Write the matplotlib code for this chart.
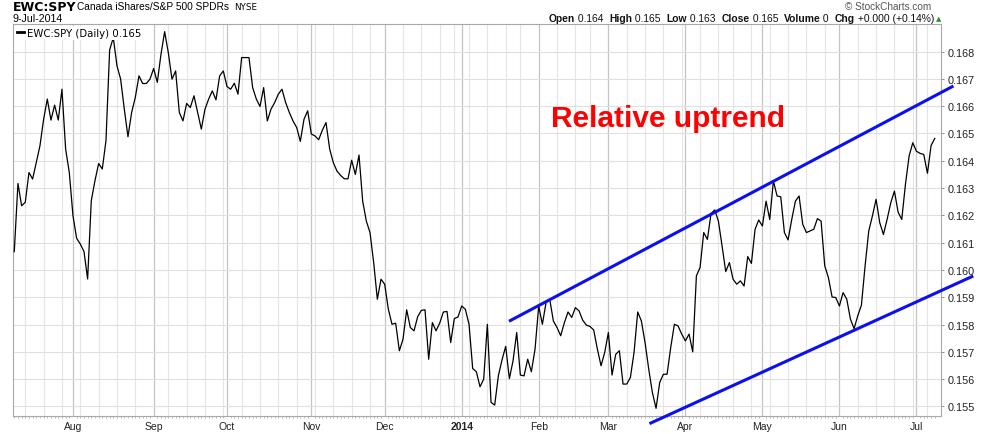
import matplotlib
matplotlib.use("Agg")
import matplotlib.pyplot as plt
import numpy as np
import pandas as pd
from matplotlib.lines import Line2D
from matplotlib.ticker import FixedLocator, FormatStrFormatter

plt.rcParams["font.family"] = ["Liberation Sans", "DejaVu Sans"]

# trading calendar, 10-Jul-2013 .. 9-Jul-2014
start_date = "2013-07-10"
end_date = "2014-07-09"
holidays = ["2013-09-02", "2013-11-28", "2013-12-25", "2014-01-01", "2014-01-20",
            "2014-02-17", "2014-04-18", "2014-05-26", "2014-07-04"]

# EWC:SPY daily close
ratio = [
    0.16067, 0.16317, 0.16235, 0.16248, 0.16357, 0.16333, 0.16394, 0.16455, 0.16552, 0.16626,
    0.16549, 0.16604, 0.16549, 0.16662, 0.16443, 0.16357, 0.16199, 0.16116, 0.16095, 0.16068,
    0.15967, 0.16254, 0.16327, 0.16390, 0.16370, 0.16473, 0.16806, 0.16851, 0.16748, 0.16699,
    0.16589, 0.16488, 0.16577, 0.16632, 0.16711, 0.16683, 0.16683, 0.16699, 0.16738, 0.16687,
    0.16790, 0.16873, 0.16796, 0.16699, 0.16729, 0.16577, 0.16546, 0.16610, 0.16595, 0.16638,
    0.16577, 0.16516, 0.16589, 0.16626, 0.16656, 0.16623, 0.16711, 0.16729, 0.16672, 0.16662,
    0.16684, 0.16644, 0.16778, 0.16778, 0.16778, 0.16668, 0.16626, 0.16599, 0.16668, 0.16546,
    0.16589, 0.16613, 0.16644, 0.16662, 0.16613, 0.16577, 0.16546, 0.16522, 0.16471, 0.16552,
    0.16583, 0.16498, 0.16491, 0.16477, 0.16512, 0.16540, 0.16443, 0.16393, 0.16362, 0.16346,
    0.16334, 0.16334, 0.16402, 0.16350, 0.16421, 0.16252, 0.16179, 0.16137, 0.16027, 0.15893,
    0.15966, 0.15948, 0.15856, 0.15801, 0.15805, 0.15704, 0.15746, 0.15854, 0.15789, 0.15777,
    0.15829, 0.15852, 0.15854, 0.15673, 0.15807, 0.15777, 0.15805, 0.15846, 0.15848, 0.15734,
    0.15822, 0.15828, 0.15868, 0.15856, 0.15801, 0.15639, 0.15627, 0.15572, 0.15600, 0.15801,
    0.15515, 0.15505, 0.15612, 0.15671, 0.15720, 0.15602, 0.15667, 0.15771, 0.15615, 0.15612,
    0.15673, 0.15627, 0.15710, 0.15868, 0.15801, 0.15880, 0.15893, 0.15813, 0.15789, 0.15759,
    0.15807, 0.15846, 0.15826, 0.15862, 0.15850, 0.15816, 0.15798, 0.15793, 0.15780, 0.15710,
    0.15649, 0.15698, 0.15771, 0.15615, 0.15691, 0.15704, 0.15582, 0.15582, 0.15606, 0.15698,
    0.15846, 0.15813, 0.15734, 0.15637, 0.15551, 0.15493, 0.15588, 0.15618, 0.15618, 0.15716,
    0.15801, 0.15795, 0.15765, 0.15740, 0.15765, 0.15700, 0.15978, 0.16009, 0.16137, 0.16112,
    0.16207, 0.16220, 0.16179, 0.16088, 0.15994, 0.16027, 0.15966, 0.15948, 0.15960, 0.15941,
    0.16049, 0.16024, 0.16149, 0.16183, 0.16161, 0.16252, 0.16185, 0.16326, 0.16271, 0.16268,
    0.16137, 0.16110, 0.16185, 0.16252, 0.16271, 0.16167, 0.16137, 0.16143, 0.16149, 0.16188,
    0.16179, 0.16015, 0.15972, 0.15901, 0.15899, 0.15868, 0.15917, 0.15893, 0.15820, 0.15785,
    0.15832, 0.15871, 0.16015, 0.16143, 0.16198, 0.16259, 0.16173, 0.16130, 0.16185, 0.16246,
    0.16289, 0.16212, 0.16185, 0.16313, 0.16417, 0.16466, 0.16435, 0.16427, 0.16423, 0.16354,
    0.16456, 0.16482,
]

# price axis labels
y_ticks = [0.155, 0.156, 0.157, 0.158, 0.159, 0.160, 0.161,
           0.162, 0.163, 0.164, 0.165, 0.166, 0.167, 0.168]

# hand-drawn channel lines (trading-day index, value)
upper_days = [134.9, 256.1]
upper_vals = [0.15812, 0.16674]
lower_days = [173.2, 261.5]
lower_vals = [0.15437, 0.15978]

header_parts = [("Open", True), (" 0.164  ", False), ("High", True), (" 0.165  ", False),
                ("Low", True), (" 0.163  ", False), ("Close", True), (" 0.165  ", False),
                ("Volume", True), (" 0  ", False), ("Chg", True), (" +0.000 (+0.14%)", False)]

dates = pd.bdate_range(start_date, end_date)
dates = dates[~dates.isin(pd.to_datetime(holidays))]
x = np.arange(len(dates))

month_starts = [i for i in range(1, len(dates)) if dates[i].month != dates[i - 1].month]
week_starts = [i for i in range(1, len(dates))
               if dates[i].isocalendar()[1] != dates[i - 1].isocalendar()[1] and i not in month_starts]
month_labels = [str(dates[i].year) if dates[i].month == 1 else dates[i].strftime("%b") for i in month_starts]

W, H = 986, 435
fig = plt.figure(figsize=(W / 100, H / 100), dpi=100)
ax = fig.add_axes([13 / W, 18 / H, 928 / W, 392 / H])

# grid
for i in week_starts:
    ax.axvline(i, color="#e5e5e5", lw=0.8, zorder=0)
for i in month_starts:
    ax.axvline(i, color="#c4c4c4", lw=0.9, zorder=0)
ax.yaxis.set_major_locator(FixedLocator(y_ticks))
ax.yaxis.set_major_formatter(FormatStrFormatter("%.3f"))
ax.yaxis.grid(True, color="#e0e0e0", lw=0.8)
ax.set_axisbelow(True)

ax.plot(x, ratio, color="black", lw=0.9, zorder=3)

ax.plot(upper_days, upper_vals, color="#0a10f0", lw=2.2, clip_on=False, zorder=4, solid_capstyle="butt")
ax.plot(lower_days, lower_vals, color="#0a10f0", lw=2.2, clip_on=False, zorder=4, solid_capstyle="butt")

ax.set_xlim(-0.35, 252.7)
ax.set_ylim(0.15465, 0.16901)

ax.yaxis.tick_right()
ax.tick_params(axis="y", which="major", length=2.5, width=0.6, color="#808080",
               labelsize=7.8, pad=2, labelcolor="#222222")
ax.set_xticks(month_starts)
ax.set_xticklabels(month_labels)
for lbl in ax.get_xticklabels():
    if lbl.get_text() == "2014":
        lbl.set_fontweight("bold")
        lbl.set_fontsize(8.5)
ax.set_xticks(x, minor=True)
ax.tick_params(axis="x", which="major", length=0, labelsize=7.5, pad=3.5, labelcolor="#222222")
ax.tick_params(axis="x", which="minor", length=1.5, width=0.5, color="#a0a0a0")
for sp in ax.spines.values():
    sp.set_color("#a8a8a8")
    sp.set_linewidth(0.8)

ax.text((551 - 13) / 928, (417 - 127) / 392, "Relative uptrend", transform=ax.transAxes,
        color="#ff0000", fontsize=21.5, fontweight="bold", va="baseline", ha="left", zorder=5)

leg = ax.legend(handles=[Line2D([], [], color="black", lw=2)], labels=["EWC:SPY (Daily) 0.165"],
                loc="upper left", borderaxespad=0.15, frameon=True, fancybox=False,
                handlelength=0.7, handletextpad=0.35, borderpad=0.2,
                prop={"family": "DejaVu Sans", "size": 7.3})
leg.get_frame().set_edgecolor("none")
leg.get_frame().set_facecolor("white")
leg.get_frame().set_alpha(1)

# header
fig.text(13 / W, 1 - 7.5 / H, "EWC:SPY", fontsize=9, fontweight="bold", va="center", ha="left",
         family=["DejaVu Sans"])
fig.text(77 / W, 1 - 7.5 / H, "Canada iShares/S&P 500 SPDRs", fontsize=7.3, va="center", ha="left")
fig.text(234 / W, 1 - 7.5 / H, "NYSE", fontsize=6.3, va="center", ha="left", family=["DejaVu Sans"])
fig.text(12.5 / W, 1 - 19.5 / H, "9-Jul-2014", fontsize=7.7, va="center", ha="left")
fig.text(931 / W, 1 - 6.5 / H, "\u00a9 StockCharts.com", fontsize=7.2, va="center", ha="right",
         color="#555555")

renderer = fig.canvas.get_renderer()
xpos = 549
for s, bold in header_parts:
    t = fig.text(xpos / W, 1 - 19.5 / H, s, fontsize=7.35, fontweight="bold" if bold else "normal",
                 va="center", ha="left", color="#111111")
    xpos += t.get_window_extent(renderer).width
fig.text((xpos + 2) / W, 1 - 19 / H, "\u25b2", fontsize=5, va="center", ha="left", color="#3a8a3a",
         family=["DejaVu Sans"])

fig.savefig("out.png", dpi=100)
